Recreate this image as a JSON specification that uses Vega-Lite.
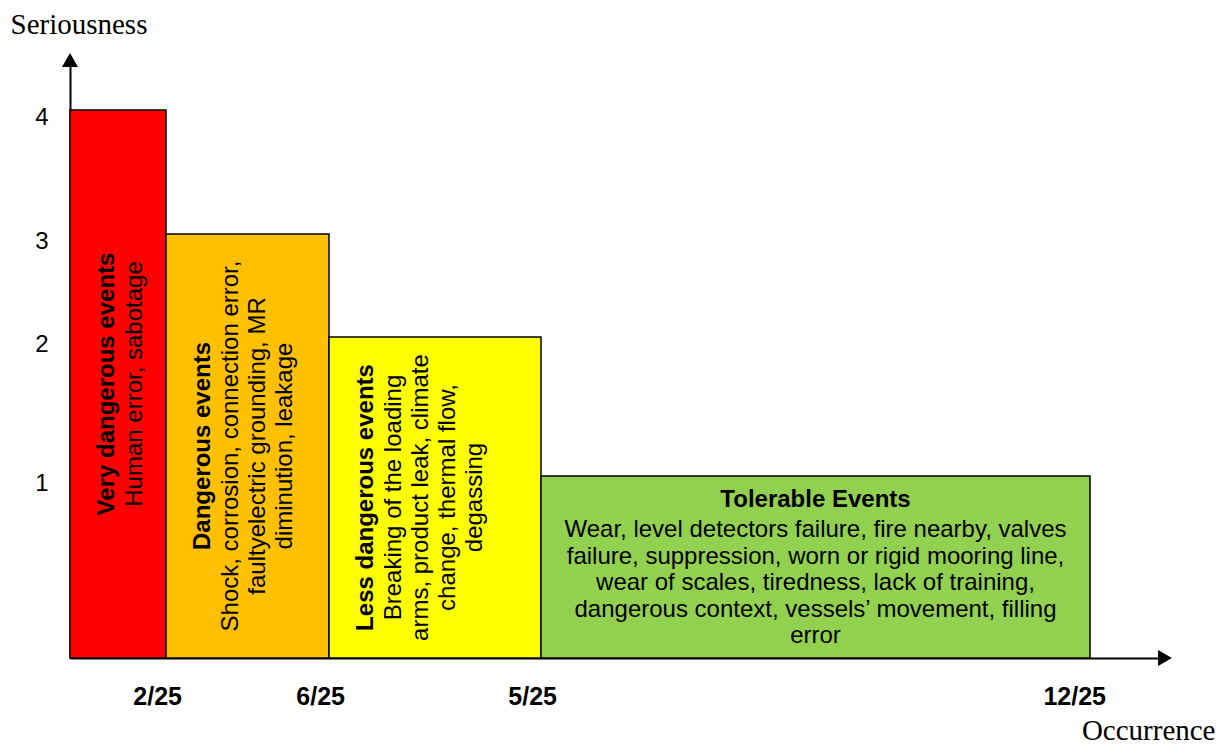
{
  "$schema": "https://vega.github.io/schema/vega-lite/v6.json",
  "autosize": {"type": "none"},
  "padding": {"left": 70, "top": 60, "right": 59, "bottom": 89},
  "width": 1095,
  "height": 598,
  "background": "white",
  "config": {
    "font": "Liberation Sans",
    "view": {"stroke": null},
    "text": {"color": "black"}
  },
  "data": {
    "values": [
      {"category": "Very dangerous events", "details": ["Human error, sabotage"], "occurrence": "2/25", "start": 0, "end": 2, "seriousness": 4},
      {"category": "Dangerous events", "details": ["Shock, corrosion, connection error,", "faultyelectric grounding, MR", "diminution, leakage"], "occurrence": "6/25", "start": 2, "end": 8, "seriousness": 3},
      {"category": "Less dangerous events", "details": ["Breaking of the loading", "arms, product leak, climate", "change, thermal flow,", "degassing"], "occurrence": "5/25", "start": 8, "end": 13, "seriousness": 2},
      {"category": "Tolerable Events", "details": ["Wear, level detectors failure, fire nearby, valves", "failure, suppression, worn or rigid mooring line,", "wear of scales, tiredness, lack of training,", "dangerous context, vessels’ movement, filling", "error"], "occurrence": "12/25", "start": 13, "end": 25, "seriousness": 1}
    ]
  },
  "layer": [
    {
      "mark": {"type": "rect", "stroke": "black", "strokeWidth": 1.5},
      "encoding": {
        "x": {
          "field": "start",
          "type": "quantitative",
          "scale": {"domain": [0, 2, 8, 13, 25, 27], "range": [0, 96, 259, 471, 1020, 1095], "nice": false, "zero": false},
          "axis": {
            "title": "Occurrence",
            "labels": false,
            "ticks": false,
            "grid": false,
            "domainColor": "black",
            "domainWidth": 2,
            "titleFont": "Liberation Serif",
            "titleFontSize": 29,
            "titleFontWeight": "normal",
            "titleColor": "black",
            "titleX": 1145,
            "titleY": 81,
            "titleAlign": "right",
            "titleBaseline": "alphabetic"
          }
        },
        "x2": {"field": "end"},
        "y": {
          "field": "seriousness",
          "type": "quantitative",
          "scale": {"domain": [0, 1, 2, 3, 4, 4.4], "range": [598, 416, 277, 174, 50, 0], "nice": false, "zero": false},
          "axis": {
            "title": "Seriousness",
            "values": [1, 2, 3, 4],
            "format": "d",
            "ticks": false,
            "tickSize": 0,
            "grid": false,
            "labelPadding": 22,
            "labelFontSize": 24,
            "labelColor": "black",
            "labelOffset": 7,
            "labelFlush": false,
            "domainColor": "black",
            "domainWidth": 2,
            "titleFont": "Liberation Serif",
            "titleFontSize": 29,
            "titleFontWeight": "normal",
            "titleColor": "black",
            "titleAngle": 0,
            "titleX": -60,
            "titleY": -27,
            "titleAlign": "left",
            "titleBaseline": "alphabetic"
          }
        },
        "y2": {"datum": 0},
        "color": {
          "field": "category",
          "type": "nominal",
          "scale": {
            "domain": ["Very dangerous events", "Dangerous events", "Less dangerous events", "Tolerable Events"],
            "range": ["#FF0000", "#FFC000", "#FFFF00", "#92D050"]
          },
          "legend": null
        }
      }
    },
    {
      "transform": [{"filter": "datum.category != 'Tolerable Events'"}],
      "mark": {
        "type": "text",
        "angle": 270,
        "align": "center",
        "baseline": "top",
        "dy": 25,
        "fontSize": 24,
        "fontWeight": "bold",
        "y": {"expr": "(scale('y', datum.seriousness) + scale('y', 0)) / 2"}
      },
      "encoding": {
        "x": {"field": "start", "type": "quantitative"},
        "text": {"field": "category", "type": "nominal"}
      }
    },
    {
      "transform": [{"filter": "datum.category != 'Tolerable Events'"}],
      "mark": {
        "type": "text",
        "angle": 270,
        "align": "center",
        "baseline": "top",
        "dy": 53,
        "lineHeight": 27,
        "fontSize": 24,
        "y": {"expr": "(scale('y', datum.seriousness) + scale('y', 0)) / 2"}
      },
      "encoding": {
        "x": {"field": "start", "type": "quantitative"},
        "text": {"field": "details", "type": "nominal"}
      }
    },
    {
      "transform": [{"filter": "datum.category == 'Tolerable Events'"}],
      "mark": {
        "type": "text",
        "align": "center",
        "baseline": "top",
        "dy": 12,
        "fontSize": 24,
        "fontWeight": "bold",
        "x": {"expr": "(scale('x', datum.start) + scale('x', datum.end)) / 2"}
      },
      "encoding": {
        "y": {"field": "seriousness", "type": "quantitative"},
        "text": {"field": "category", "type": "nominal"}
      }
    },
    {
      "transform": [{"filter": "datum.category == 'Tolerable Events'"}],
      "mark": {
        "type": "text",
        "align": "center",
        "baseline": "top",
        "dy": 42,
        "lineHeight": 26.5,
        "fontSize": 24,
        "x": {"expr": "(scale('x', datum.start) + scale('x', datum.end)) / 2"}
      },
      "encoding": {
        "y": {"field": "seriousness", "type": "quantitative"},
        "text": {"field": "details", "type": "nominal"}
      }
    },
    {
      "mark": {"type": "text", "align": "right", "baseline": "top", "dx": 16, "dy": 27, "fontSize": 25, "fontWeight": "bold"},
      "encoding": {
        "x": {"field": "end", "type": "quantitative"},
        "y": {"datum": 0, "type": "quantitative"},
        "text": {"field": "occurrence", "type": "nominal"}
      }
    },
    {
      "data": {"values": [{"arrow": "occurrence"}]},
      "mark": {"type": "point", "shape": "triangle-right", "size": 256, "filled": true, "color": "black", "opacity": 1},
      "encoding": {
        "x": {"datum": 27, "type": "quantitative"},
        "y": {"datum": 0, "type": "quantitative"}
      }
    },
    {
      "data": {"values": [{"arrow": "seriousness"}]},
      "mark": {"type": "point", "shape": "triangle-up", "size": 256, "filled": true, "color": "black", "opacity": 1},
      "encoding": {
        "x": {"datum": 0, "type": "quantitative"},
        "y": {"datum": 4.4, "type": "quantitative"}
      }
    }
  ]
}
